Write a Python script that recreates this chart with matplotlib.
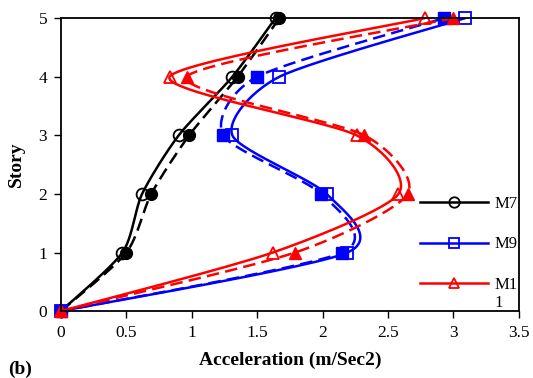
import numpy as np
import matplotlib.pyplot as plt
from matplotlib.lines import Line2D

plt.rcParams['font.family'] = ['Liberation Serif', 'DejaVu Serif']

story = [0, 1, 2, 3, 4, 5]

# peak floor acceleration (m/s^2), two records per model
m7_a = [0, 0.47, 0.62, 0.90, 1.31, 1.64]
m7_b = [0, 0.50, 0.69, 0.98, 1.35, 1.67]
m9_a = [0, 2.19, 2.03, 1.31, 1.67, 3.09]
m9_b = [0, 2.15, 1.99, 1.24, 1.50, 2.93]
m11_a = [0, 1.62, 2.58, 2.26, 0.83, 2.78]
m11_b = [0, 1.79, 2.65, 2.32, 0.96, 3.00]


def smooth(xs, ys, k=8.0, n=30):
    # Bezier smoothing through every point, like spreadsheet "smoothed line"
    p = np.column_stack([xs, ys]).astype(float)
    out = [p[0]]
    for i in range(len(p) - 1):
        p0 = p[i - 1] if i > 0 else p[i]
        p1, p2 = p[i], p[i + 1]
        p3 = p[i + 2] if i + 2 < len(p) else p[i + 1]
        c1 = p1 + (p2 - p0) / k
        c2 = p2 - (p3 - p1) / k
        t = np.linspace(0, 1, n)[1:, None]
        seg = ((1 - t) ** 3 * p1 + 3 * (1 - t) ** 2 * t * c1
               + 3 * (1 - t) * t ** 2 * c2 + t ** 3 * p2)
        out.extend(seg)
    out = np.array(out)
    return out[:, 0], out[:, 1]


fig = plt.figure(figsize=(5.33, 3.78), dpi=100)
ax = fig.add_axes([0.1144, 0.177, 0.859, 0.775])

series = [
    (m7_a, m7_b, 'black', 'o'),
    (m9_a, m9_b, '#0000ff', 's'),
    (m11_a, m11_b, '#ff0000', '^'),
]
lw = 1.8
ms = 8.5
for a, b, c, m in series:
    xs, ys = smooth(a, story)
    ax.plot(xs, ys, color=c, lw=lw, solid_capstyle='round')
    ax.plot(a, story, ls='none', marker=m, ms=ms, mfc='none', mec=c, mew=1.3,
            clip_on=False)
    xs, ys = smooth(b, story)
    ax.plot(xs, ys, color=c, lw=lw, dashes=(5, 2.5))
    ax.plot(b, story, ls='none', marker=m, ms=ms, mfc=c, mec=c, clip_on=False)

ax.set_xlim(0, 3.5)
ax.set_ylim(0, 5)
ax.set_xticks(np.arange(0, 3.51, 0.5))
ax.set_xticklabels(['0', '0.5', '1', '1.5', '2', '2.5', '3', '3.5'])
ax.set_yticks(range(6))
ax.tick_params(direction='out', length=5, width=1, labelsize=12.5, pad=5)
for s in ax.spines.values():
    s.set_linewidth(1.3)

ax.set_xlabel('Acceleration (m/Sec2)', fontsize=14, fontweight='bold', labelpad=8)
ax.set_ylabel('Story', fontsize=14, fontweight='bold', labelpad=10)
fig.text(0.015, 0.01, '(b)', fontsize=14, fontweight='bold')

handles = [Line2D([], [], color=c, lw=lw, marker=m, ms=7.5, mfc='none', mew=1.3)
           for _, _, c, m in series]
leg = ax.legend(handles, ['M7', 'M9', 'M1'], loc='upper left',
                bbox_to_anchor=(0.784, 0.392), frameon=False, fontsize=12,
                handlelength=4.1, handletextpad=0.4, labelspacing=1.45,
                borderpad=0, borderaxespad=0)
# "M11" wraps onto a second line in the legend box
ax.annotate('1', xy=(0, 0), xycoords=leg.get_texts()[2], xytext=(0, -2),
            textcoords='offset points', ha='left', va='top', fontsize=12,
            zorder=10)

fig.savefig('out.png', dpi=100)
